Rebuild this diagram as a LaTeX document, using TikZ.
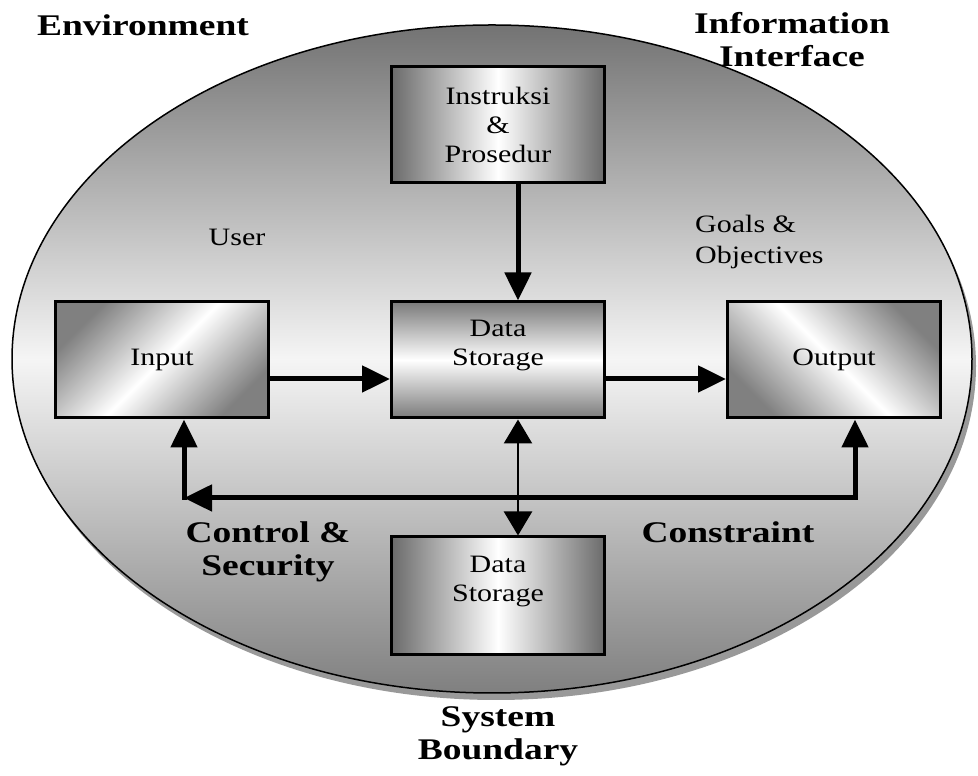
\documentclass[tikz,border=0pt]{standalone}
\usepackage{fontspec}
\setmainfont{Liberation Serif}
\usetikzlibrary{arrows.meta}

\begin{document}
\begin{tikzpicture}[x=1pt, y=1pt,
	box/.style={draw=black, line width=3pt, minimum width=177pt, minimum height=116pt, align=center, xscale=1.2, font=\fontsize{25}{29}\selectfont},
	hshade/.style={left color=black!58, right color=black!58, middle color=white},
	vshade/.style={top color=black!52, bottom color=black!52, middle color=white},
	dshade/.style={top color=black!50, bottom color=black!50, shading angle=#1, middle color=white},
	raised/.style={text depth=34pt},
	txt/.style={align=center, xscale=1.2, font=\fontsize{25}{31}\selectfont},
	lbl/.style={align=center, xscale=1.25, font=\bfseries\fontsize{30}{33}\selectfont},
	flow/.style={line width=5pt, line cap=rect, -{Triangle[length=28pt, width=26pt]}},
	both/.style={line width=2.5pt, {Triangle[length=24pt, width=28pt]}-{Triangle[length=24pt, width=28pt]}}
]
	\useasboundingbox (0,0) rectangle (978,776);

	% system boundary
	\fill[black!40] (496,410) ellipse [x radius=480, y radius=334];
	\draw[line width=1.5pt, top color=black!55, bottom color=black!50, middle color=white!96!black]
		(492,417) ellipse [x radius=480, y radius=334];

	% boxes
	\node[box, hshade] (instr) at (498,651) {Instruksi\\\&\\Prosedur};
	\node[box, vshade, raised] (store) at (498,416) {Data\\Storage};
	\node[box, dshade=45] (input) at (162,416) {Input};
	\node[box, dshade=-45] (output) at (834,416) {Output};
	\node[box, hshade, raised, minimum height=118pt] (disk) at (498,180) {Data\\Storage};

	% flows
	\draw[flow] ([xshift=20pt]instr.south) -- ([xshift=20pt]store.north);
	\draw[flow] ([yshift=-19pt]input.east) -- ([yshift=-19pt]store.west);
	\draw[flow] ([yshift=-19pt]store.east) -- ([yshift=-19pt]output.west);
	\draw[both] ([xshift=20pt]store.south) -- ([xshift=20pt]disk.north);

	% control loop
	\coordinate (cr) at (855,278);
	\coordinate (cl) at (184,278);
	\draw[flow] (cr) -- (output.south -| cr);
	\draw[flow] (cr) -- (cl);
	\draw[flow] (cl) -- (input.south -| cl);

	% labels
	\node[lbl] (env) at (143,751) {Environment};
	\node[lbl] (info) at (792,736) {Information\\Interface};
	\node[txt] (user) at (237,539) {User};
	\node[txt, anchor=west, align=left] (goals) at (691,534) {Goals \&\\Objectives};
	\node[lbl] (ctrl) at (268,224) {Control \&\\Security};
	\node[lbl] (cons) at (728,244) {Constraint};
	\node[lbl] (bound) at (498,40) {System\\Boundary};
\end{tikzpicture}
\end{document}
